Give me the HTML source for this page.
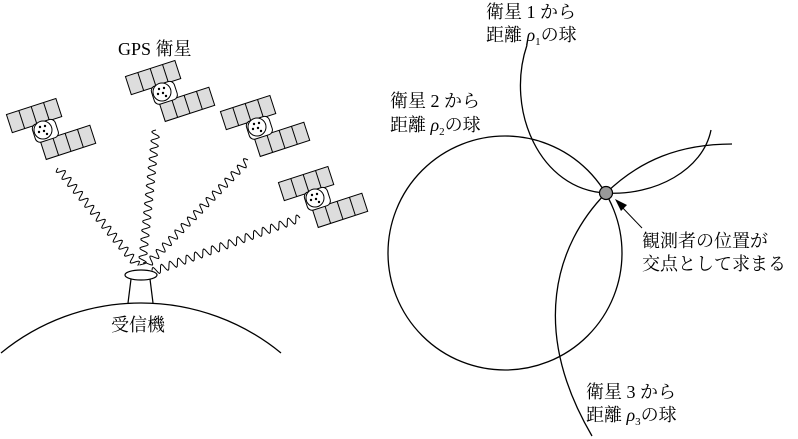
<!DOCTYPE html>
<html><head><meta charset="utf-8"><style>
body{margin:0;background:#fff;overflow:hidden}
svg{display:block}
text{font-family:"Liberation Serif","Noto Serif CJK SC","Noto Sans CJK JP",serif;font-size:18px;fill:#000}
</style></head><body>
<svg id="s" width="798" height="439" viewBox="0 0 798 439" xmlns="http://www.w3.org/2000/svg">
<defs>
<g id="sat">
  <g transform="rotate(-18)">
    <rect x="-30" y="-26" width="52" height="19" fill="#ddd" stroke="#000" stroke-width="1"/>
    <line x1="-17" y1="-26" x2="-17" y2="-7" stroke="#000"/><line x1="-4" y1="-26" x2="-4" y2="-7" stroke="#000"/><line x1="9" y1="-26" x2="9" y2="-7" stroke="#000"/>
    <rect x="-6" y="10" width="52" height="19" fill="#ddd" stroke="#000" stroke-width="1"/>
    <line x1="7" y1="10" x2="7" y2="29" stroke="#000"/><line x1="20" y1="10" x2="20" y2="29" stroke="#000"/><line x1="33" y1="10" x2="33" y2="29" stroke="#000"/>
    <rect x="-10" y="-8" width="24" height="19" rx="5" fill="#fff" stroke="#000"/>
  </g>
  <circle cx="0" cy="0" r="9" fill="#fff" stroke="#000"/>
  <circle cx="-3" cy="-3" r="1.2"/><circle cx="2" cy="-4" r="1.2"/><circle cx="-4" cy="2" r="1.2"/><circle cx="1" cy="1" r="1.2"/><circle cx="4" cy="4" r="1.2"/>
</g>
</defs>
<path d="M1,353 A221,221 0 0 1 281,353" fill="none" stroke="#000" stroke-width="1.3"/>
<g id="waves" fill="none" stroke="#000" stroke-width="1"></g>
<use href="#sat" x="43" y="130"/>
<use href="#sat" x="162" y="92"/>
<use href="#sat" x="257" y="127"/>
<use href="#sat" x="315" y="198"/>
<line x1="131" y1="279" x2="128" y2="303" stroke="#000" stroke-width="1.2"/>
<line x1="150" y1="279" x2="153" y2="303" stroke="#000" stroke-width="1.2"/>
<ellipse cx="141" cy="275" rx="16" ry="5" fill="#fff" stroke="#000" stroke-width="1.2"/>
<text x="111" y="331">受信機</text>
<text x="118" y="55">GPS 衛星</text>

<circle cx="505" cy="253" r="117" fill="none" stroke="#000" stroke-width="1.3"/>
<path d="M527,45 C505,110 540,190 606,193 C655,196 703,170 711,130" fill="none" stroke="#000" stroke-width="1.3"/>
<path d="M732,144 C680,144 640,160 606,193 C555,245 530,330 592,436" fill="none" stroke="#000" stroke-width="1.3"/>
<circle cx="606" cy="193" r="6.5" fill="#999" stroke="#000" stroke-width="1.2"/>
<line x1="642" y1="228" x2="620" y2="205" stroke="#000" stroke-width="1"/>
<polygon points="615,199 627,205 621,211" fill="#000"/>
<text x="486" y="18">衛星 1 から</text>
<text x="486" y="41">距離 <tspan font-style="italic">ρ</tspan><tspan font-size="11" dy="4">1</tspan><tspan dy="-4">の球</tspan></text>
<text x="390" y="107">衛星 2 から</text>
<text x="390" y="131">距離 <tspan font-style="italic">ρ</tspan><tspan font-size="11" dy="4">2</tspan><tspan dy="-4">の球</tspan></text>
<text x="642" y="247">観測者の位置が</text>
<text x="642" y="270">交点として求まる</text>
<text x="586" y="398">衛星 3 から</text>
<text x="586" y="421">距離 <tspan font-style="italic">ρ</tspan><tspan font-size="11" dy="4">3</tspan><tspan dy="-4">の球</tspan></text>
</svg>
<script>
var segs=[[58,168,138,266],[156,130,142,266],[248,160,146,266],[300,218,152,272]];
var g=document.getElementById('waves');
segs.forEach(function(s){
 var dx=s[2]-s[0],dy=s[3]-s[1],L=Math.hypot(dx,dy),ux=dx/L,uy=dy/L,nx=-uy,ny=ux,d='';
 for(var t=0;t<=L;t+=1){var o=4*Math.sin(t/9*2*Math.PI);var x=s[0]+ux*t+nx*o,y=s[1]+uy*t+ny*o;d+=(t?'L':'M')+x.toFixed(1)+','+y.toFixed(1);}
 var p=document.createElementNS('http://www.w3.org/2000/svg','path');p.setAttribute('d',d);g.appendChild(p);
});
</script>
</body></html>
